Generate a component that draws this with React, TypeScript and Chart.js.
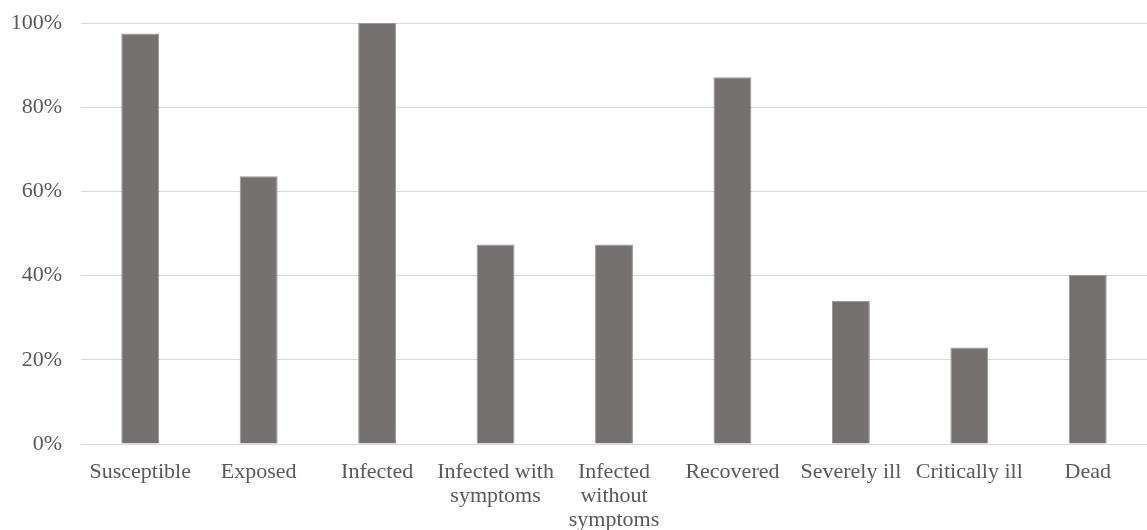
import React, { useEffect, useRef } from "react";
import { Chart, registerables } from "chart.js";

Chart.register(...registerables);

const categories: (string | string[])[] = [
  "Susceptible",
  "Exposed",
  "Infected",
  ["Infected with", "symptoms"],
  ["Infected", "without", "symptoms"],
  "Recovered",
  "Severely ill",
  "Critically ill",
  "Dead",
];
const values: number[] = [97.5, 63.6, 100, 47.4, 47.4, 87.1, 34.0, 22.9, 40.2];
const yTicks: number[] = [0, 20, 40, 60, 80, 100];

const FONT = "'Liberation Serif', 'Times New Roman', serif";

export default function App() {
  const ref = useRef<HTMLCanvasElement | null>(null);
  useEffect(() => {
    document.body.style.margin = "0";
    const ctx = ref.current!;
    const chart = new Chart(ctx, {
      type: "bar",
      data: {
        labels: categories,
        datasets: [
          {
            data: values,
            backgroundColor: "#757171",
            borderColor: "#9a9696",
            borderWidth: 1,
            categoryPercentage: 1,
            barPercentage: 0.32,
          },
        ],
      },
      options: {
        animation: false,
        responsive: false,
        maintainAspectRatio: false,
        layout: { padding: { top: 23, right: 0, left: 0, bottom: 0 } },
        plugins: { legend: { display: false }, tooltip: { enabled: false } },
        scales: {
          x: {
            grid: { display: false, drawTicks: false },
            border: { display: true, color: "#d9d9d9", width: 1 },
            ticks: {
              maxRotation: 0,
              minRotation: 0,
              autoSkip: false,
              color: "#595959",
              padding: 16,
              font: { family: FONT, size: 22, lineHeight: 1.1 },
            },
            afterFit: (s: any) => {
              s.height = 86;
              s.paddingLeft = 0;
              s.paddingRight = 0;
            },
          },
          y: {
            min: 0,
            max: 100,
            afterBuildTicks: (s: any) => {
              s.ticks = yTicks.map((v) => ({ value: v }));
            },
            grid: { color: "#d9d9d9", lineWidth: 1, drawTicks: false },
            border: { display: false },
            ticks: {
              color: "#595959",
              padding: 19,
              font: { family: FONT, size: 22 },
              callback: (v: any) => v + "%",
            },
            afterFit: (s: any) => {
              s.width = 81;
              s.paddingTop = 0;
              s.paddingBottom = 0;
            },
          },
        },
      },
    });
    return () => chart.destroy();
  }, []);
  return (
    <div style={{ position: "absolute", left: 0, top: 0, width: 1147, height: 530 }}>
      <canvas ref={ref} width={1147} height={530} style={{ width: 1147, height: 530 }} />
    </div>
  );
}
